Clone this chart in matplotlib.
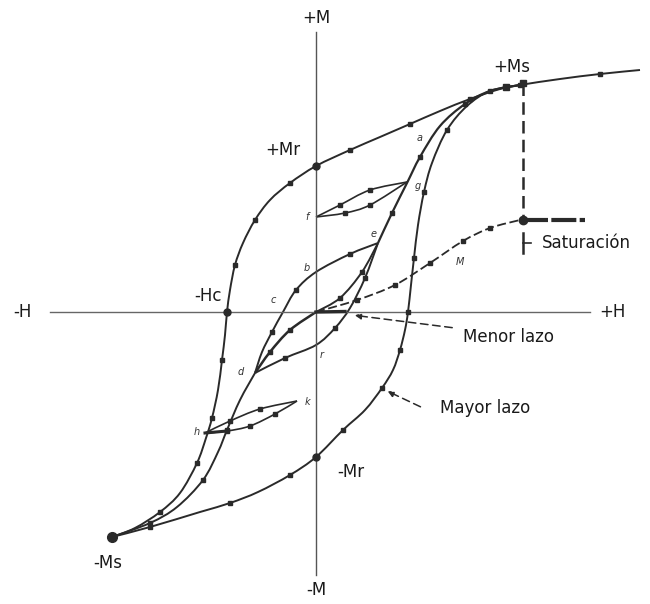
import matplotlib
matplotlib.use("Agg")
from matplotlib import pyplot as plt
from matplotlib.path import Path
from matplotlib.patches import PathPatch
import numpy as np

# major loop: descending branch (from beyond +Ms down to -Ms)
desc_H = [32.4, 28.4, 24.4, 20.4, 18.4, 15.4, 12.4, 9.4, 6.4, 3.4, 0.0, -2.6, -4.6, -6.1,
          -7.3, -8.1, -8.6, -8.9, -9.1, -9.4, -9.8, -10.4, -11.0, -11.9, -13.6, -15.6, -18.1, -20.4]
desc_M = [24.2, 23.8, 23.3, 22.7, 22.3, 21.3, 20.1, 18.8, 17.5, 16.2, 14.6, 12.9, 11.2, 9.2,
          6.9, 4.7, 2.2, 0.0, -2.3, -4.8, -7.8, -10.6, -12.6, -15.1, -18.1, -20.0, -21.6, -22.5]

# major loop: ascending branch (-Ms up to +Ms)
asc_H = [-20.4, -16.6, -11.6, -8.6, -5.8, -2.6, 0.0, 2.7, 4.9, 6.6, 7.7, 8.4, 8.9, 9.2,
         9.5, 9.8, 10.2, 10.8, 11.6, 13.1, 15.1, 17.4, 20.4]
asc_M = [-22.5, -21.5, -20.0, -19.1, -18.0, -16.3, -14.5, -11.8, -9.8, -7.6, -5.8, -3.8, -1.8, 0.0,
         2.7, 5.4, 8.7, 12.0, 14.9, 18.2, 20.6, 22.1, 22.7]

# inner ascending path -Ms -> h -> d
inner_H = [-20.4, -16.6, -13.9, -11.3, -9.8, -8.9, -7.6, -6.1]
inner_M = [-22.5, -21.1, -19.5, -16.8, -14.0, -11.8, -8.8, -6.1]
# d -> O
dO_H = [-6.1, -4.6, -2.6, 0.0]
dO_M = [-6.1, -4.0, -1.8, 0.0]
# O -> e
Oe_H = [0.0, 2.4, 4.6, 6.2]
Oe_M = [0.0, 1.4, 4.0, 6.9]
# e -> g -> +Ms
eg_H = [6.2, 7.6, 9.1, 10.4, 12.4, 14.9, 17.4, 20.4]
eg_M = [6.9, 9.9, 12.9, 15.5, 18.6, 20.8, 22.1, 22.7]
# e -> b -> c -> d
ebcd_H = [6.2, 3.4, 0.0, -2.0, -3.3, -4.4, -5.4, -6.1]
ebcd_M = [6.9, 5.8, 4.0, 2.2, 0.0, -2.0, -4.0, -6.1]
# d -> r -> e
dre_H = [-6.1, -3.1, 0.0, 1.9, 3.4, 4.9, 6.2]
dre_M = [-6.1, -4.6, -3.3, -1.6, 0.4, 3.4, 6.9]
# initial magnetization curve up to saturation
ini_H = [0.0, 4.1, 7.9, 11.4, 14.7, 17.4, 20.4]
ini_M = [0.0, 1.2, 2.7, 4.9, 7.1, 8.4, 9.2]
# minor loop f-g
fg_up_H = [0.0, 2.4, 5.4, 9.1]
fg_up_M = [9.5, 10.7, 12.2, 13.0]
fg_lo_H = [0.0, 2.9, 5.4, 9.1]
fg_lo_M = [9.5, 9.9, 10.7, 13.0]
# minor loop h-k
hk_up_H = [-11.1, -8.6, -5.6, -1.9]
hk_up_M = [-12.1, -10.9, -9.7, -8.9]
hk_lo_H = [-11.1, -8.9, -6.6, -4.1, -1.9]
hk_lo_M = [-12.1, -11.9, -11.4, -10.2, -8.9]

Hs, Ms_sat, Msat_pt = 20.7, 22.9, 9.2

big_pts = {"+Mr": (0.0, 14.6), "-Hc": (-8.9, 0.0), "-Mr": (0.0, -14.5), "-Ms": (-20.4, -22.5)}

ink = "#2a2a2a"

fig = plt.figure(figsize=(6.5, 6.04), dpi=100)
ax = fig.add_axes([0, 0, 1, 1])
ax.set_xlim(-31.6, 33.4)
ax.set_ylim(-29.2, 31.2)
ax.axis("off")

# axes of the diagram
ax.plot([-26.6, 27.4], [0, 0], color="#666666", lw=1.0)
ax.plot([0, 0], [28.0, -26.3], color="#555555", lw=1.0)


def smooth(h, m):
    # Catmull-Rom through the points, as cubic Bezier segments
    p = np.column_stack([h, m]).astype(float)
    ext = np.vstack([p[0], p, p[-1]])
    verts = [p[0]]
    codes = [Path.MOVETO]
    for i in range(1, len(ext) - 2):
        p0, p1, p2, p3 = ext[i - 1], ext[i], ext[i + 1], ext[i + 2]
        verts += [p1 + (p2 - p0) / 6, p2 - (p3 - p1) / 6, p2]
        codes += [Path.CURVE4] * 3
    return Path(verts, codes)


def curve(h, m, lw=1.4, ls="-", me=2, ms=2.2):
    ax.add_patch(PathPatch(smooth(h, m), fill=False, edgecolor=ink, lw=lw, ls=ls))
    ax.plot(h[1:-1:me], m[1:-1:me], ls="none", marker="s", ms=ms, color=ink)


curve(desc_H, desc_M)
curve(asc_H, asc_M)
curve(inner_H, inner_M)
curve(dO_H, dO_M, lw=1.8, me=1)
curve(Oe_H, Oe_M, me=1)
curve(eg_H, eg_M, lw=1.6)
curve(ebcd_H, ebcd_M)
curve(dre_H, dre_M)
curve(ini_H, ini_M, ls=(0, (5, 2)), lw=1.3, me=1)
curve(fg_up_H, fg_up_M, lw=1.2, me=1)
curve(fg_lo_H, fg_lo_M, lw=1.2, me=1)
curve(hk_up_H, hk_up_M, lw=1.2, me=1)
curve(hk_lo_H, hk_lo_M, lw=1.2, me=1)
ax.plot([hk_up_H[0], hk_lo_H[1]], [hk_up_M[0], hk_lo_M[1]], color=ink, lw=2.2)
ax.plot([0, 2.9], [0, 0.05], color=ink, lw=2.4)

# saturation marks
ax.plot([Hs, Hs], [Ms_sat, Msat_pt], color=ink, lw=1.8, ls=(0, (5, 2.5)))
ax.plot([Hs, Hs], [Msat_pt - 1.3, 5.9], color=ink, lw=1.8)
ax.plot([Hs, 26.9], [Msat_pt, Msat_pt], color=ink, lw=3.0, ls=(0, (6, 0.8)))
ax.plot([Hs, Hs + 0.8], [6.9, 6.9], color=ink, lw=1.2)
ax.plot([Hs], [Msat_pt], "o", color=ink, ms=6)
ax.plot([Hs], [Ms_sat], "s", color=ink, ms=4)
ax.plot([19.0], [22.5], "s", color=ink, ms=5)

for k, (h, m) in big_pts.items():
    ax.plot([h], [m], "o", color=ink, ms=7 if k == "-Ms" else 5)

lab = dict(fontsize=12, color="#1a1a1a", family="DejaVu Sans")
ax.text(0, 29.4, "+M", ha="center", va="center", **lab)
ax.text(0, -27.8, "-M", ha="center", va="center", **lab)
ax.text(-29.4, 0, "-H", ha="center", va="center", **lab)
ax.text(29.6, 0, "+H", ha="center", va="center", **lab)
ax.text(19.6, 24.5, "+Ms", ha="center", va="center", **lab)
ax.text(-3.3, 16.2, "+Mr", ha="center", va="center", **lab)
ax.text(-10.8, 1.6, "-Hc", ha="center", va="center", **lab)
ax.text(3.5, -16.0, "-Mr", ha="center", va="center", **lab)
ax.text(-20.8, -25.1, "-Ms", ha="center", va="center", **lab)
ax.text(22.6, 6.9, "Saturación", ha="left", va="center", **lab)
ax.text(14.7, -2.5, "Menor lazo", ha="left", va="center", **lab)
ax.text(12.4, -9.6, "Mayor lazo", ha="left", va="center", **lab)

small = dict(fontsize=7, color="#333333", style="italic", ha="center", va="center")
for t, h, m in [("a", 10.4, 17.4), ("g", 10.2, 12.6), ("f", -0.9, 9.5), ("e", 5.8, 7.8),
                ("b", -0.9, 4.4), ("c", -4.3, 1.2), ("d", -7.5, -6.0), ("r", 0.6, -4.3),
                ("k", -0.9, -9.0), ("h", -11.9, -12.0), ("M", 14.4, 5.0)]:
    ax.text(h, m, t, **small)

arr = dict(arrowstyle="-|>", color=ink, lw=1.1, ls=(0, (5, 3)), mutation_scale=9)
ax.annotate("", xy=(3.6, -0.3), xytext=(13.9, -1.6), arrowprops=arr)
ax.annotate("", xy=(6.9, -7.8), xytext=(10.7, -9.6), arrowprops=arr)

fig.savefig("out.png", dpi=100, facecolor="white")
